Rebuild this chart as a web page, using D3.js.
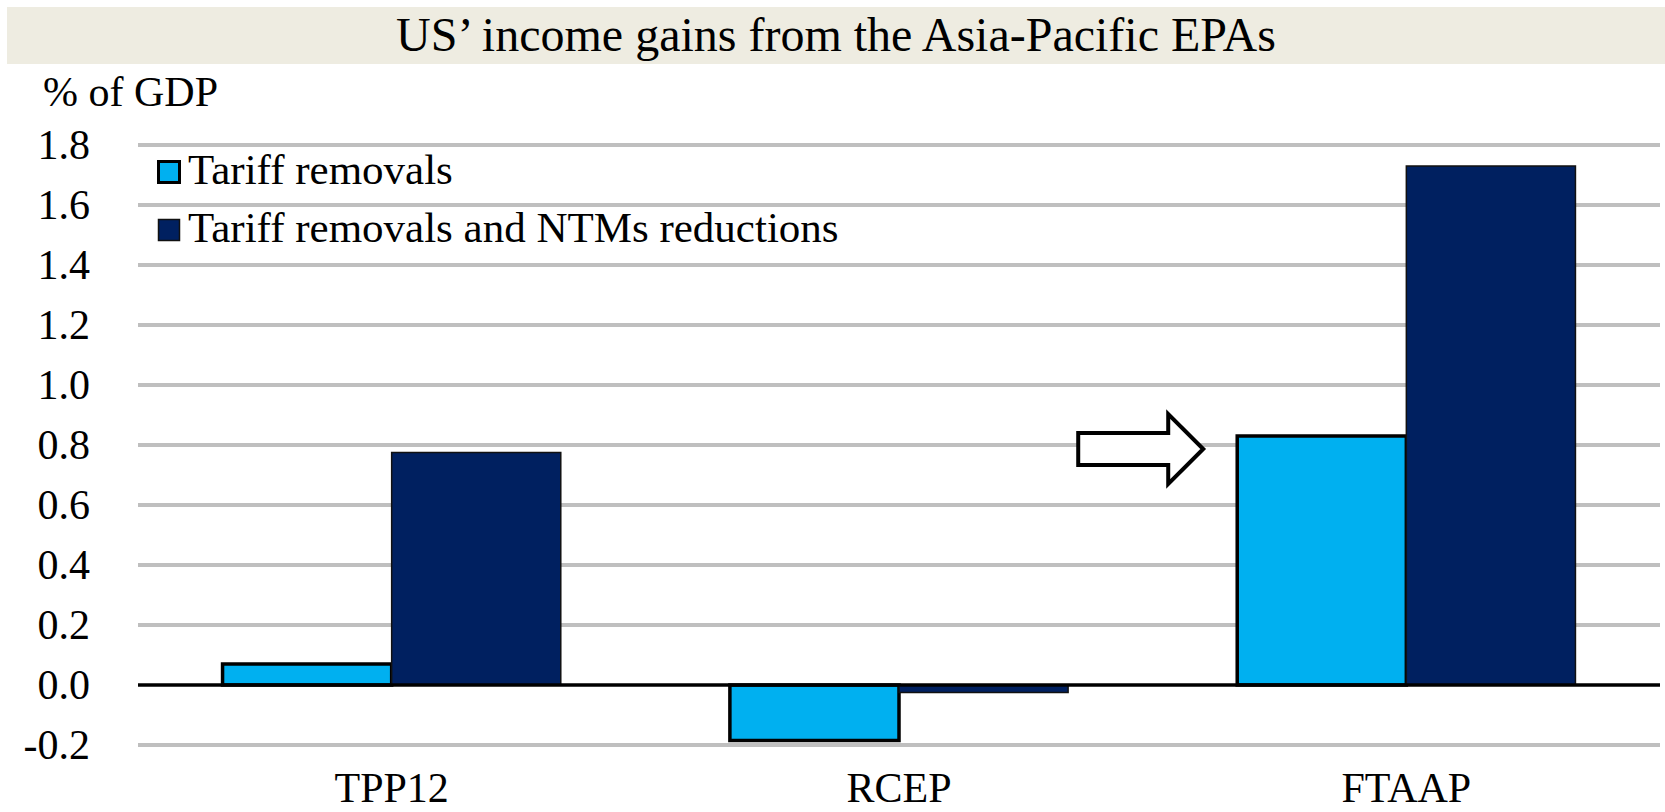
<!DOCTYPE html>
<html lang="en">
<head>
<meta charset="utf-8">
<title>US' income gains from the Asia-Pacific EPAs</title>
<script src="https://cdn.jsdelivr.net/npm/d3@7"></script>
<style>
  body { margin: 0; background: #fff; }
  text { font-family: "Liberation Serif", "Times New Roman", serif; fill: #000; }
</style>
</head>
<body>
<script>
// data
var categories = ["TPP12", "RCEP", "FTAAP"];
var seriesNames = ["Tariff removals", "Tariff removals and NTMs reductions"];
var tariffOnly = [0.07, -0.185, 0.83];
var tariffAndNtm = [0.775, -0.025, 1.73];
var yTicks = [-0.2, 0, 0.2, 0.4, 0.6, 0.8, 1.0, 1.2, 1.4, 1.6, 1.8];

var w = 1665, h = 812;
var colors = ["#00B0F0", "#002060"];

var svg = d3.select("body").append("svg")
  .attr("width", w)
  .attr("height", h);

// title band
svg.append("rect")
  .attr("x", 7).attr("y", 7)
  .attr("width", w - 7).attr("height", 57)
  .attr("fill", "#EEECE1");
svg.append("text")
  .attr("x", (7 + w) / 2).attr("y", 51)
  .attr("text-anchor", "middle")
  .attr("font-size", "48px")
  .text("US\u2019 income gains from the Asia-Pacific EPAs");

svg.append("text")
  .attr("x", 43).attr("y", 106)
  .attr("font-size", "42px")
  .text("% of GDP");

// scales
var x = d3.scaleBand().domain(categories).range([138, 1660]);
var y = d3.scaleLinear().domain([-0.2, 1.8]).range([745, 145]);
var barW = x.bandwidth() / 3;

// gridlines
svg.append("g").selectAll("line")
  .data(yTicks.filter(function(d) { return d !== 0; }))
  .enter().append("line")
  .attr("x1", 138).attr("x2", 1660)
  .attr("y1", function(d) { return y(d); })
  .attr("y2", function(d) { return y(d); })
  .attr("stroke", "#BFBFBF")
  .attr("stroke-width", 4);

// y axis labels
var yAxis = d3.axisLeft(y).tickValues(yTicks).tickFormat(d3.format(".1f")).tickSize(0).tickPadding(0);
var yg = svg.append("g").attr("transform", "translate(90,0)").call(yAxis);
yg.select(".domain").remove();
yg.selectAll("text")
  .attr("font-size", "42px")
  .attr("font-family", "Liberation Serif, Times New Roman, serif")
  .attr("fill", "#000")
  .text(function(d) { return d3.format(".1f")(d).replace("\u2212", "-"); });

// bars
var rows = categories.map(function(c, i) {
  return [{ cat: c, s: 0, v: tariffOnly[i] }, { cat: c, s: 1, v: tariffAndNtm[i] }];
});
var flat = [].concat.apply([], rows);

svg.append("g").selectAll("rect")
  .data(flat)
  .enter().append("rect")
  .attr("x", function(d) { return x(d.cat) + barW / 2 + d.s * barW; })
  .attr("y", function(d) { return y(Math.max(0, d.v)); })
  .attr("width", barW)
  .attr("height", function(d) { return Math.abs(y(d.v) - y(0)); })
  .attr("fill", function(d) { return colors[d.s]; })
  .attr("stroke", function(d) { return d.s === 0 ? "#000" : "#111"; })
  .attr("stroke-width", function(d) { return d.s === 0 ? 3.5 : 1.5; });

// zero line
svg.append("line")
  .attr("x1", 138).attr("x2", 1660)
  .attr("y1", y(0)).attr("y2", y(0))
  .attr("stroke", "#000")
  .attr("stroke-width", 3.5);

// category labels
var xAxis = d3.axisBottom(x).tickSize(0).tickPadding(0);
var xg = svg.append("g").attr("transform", "translate(0,802)").call(xAxis);
xg.select(".domain").remove();
xg.selectAll("text")
  .attr("dy", 0)
  .attr("font-size", "42px")
  .attr("font-family", "Liberation Serif, Times New Roman, serif")
  .attr("fill", "#000");

// legend
var legend = svg.append("g").selectAll("g")
  .data(seriesNames)
  .enter().append("g")
  .attr("transform", function(d, i) { return "translate(157," + (160 + i * 58) + ")"; });
legend.append("rect")
  .attr("x", 1.5).attr("y", 1.5)
  .attr("width", 21).attr("height", 21)
  .attr("fill", function(d, i) { return colors[i]; })
  .attr("stroke", function(d, i) { return i === 0 ? "#000" : "#111"; })
  .attr("stroke-width", function(d, i) { return i === 0 ? 3 : 1.5; });
legend.append("text")
  .attr("x", 31).attr("y", 24)
  .attr("font-size", "43px")
  .text(function(d) { return d; });

// arrow annotation pointing at the FTAAP tariff bar
var tipX = x("FTAAP") + barW / 2 - 34;
var cy = y(0.8) + 4;
var arrow = [
  [tipX - 125, cy - 16], [tipX - 35, cy - 16], [tipX - 35, cy - 35],
  [tipX, cy], [tipX - 35, cy + 35], [tipX - 35, cy + 16], [tipX - 125, cy + 16]
];
svg.append("polygon")
  .attr("points", arrow.map(function(p) { return p.join(","); }).join(" "))
  .attr("fill", "#fff")
  .attr("stroke", "#000")
  .attr("stroke-width", 4);
</script>
</body>
</html>
